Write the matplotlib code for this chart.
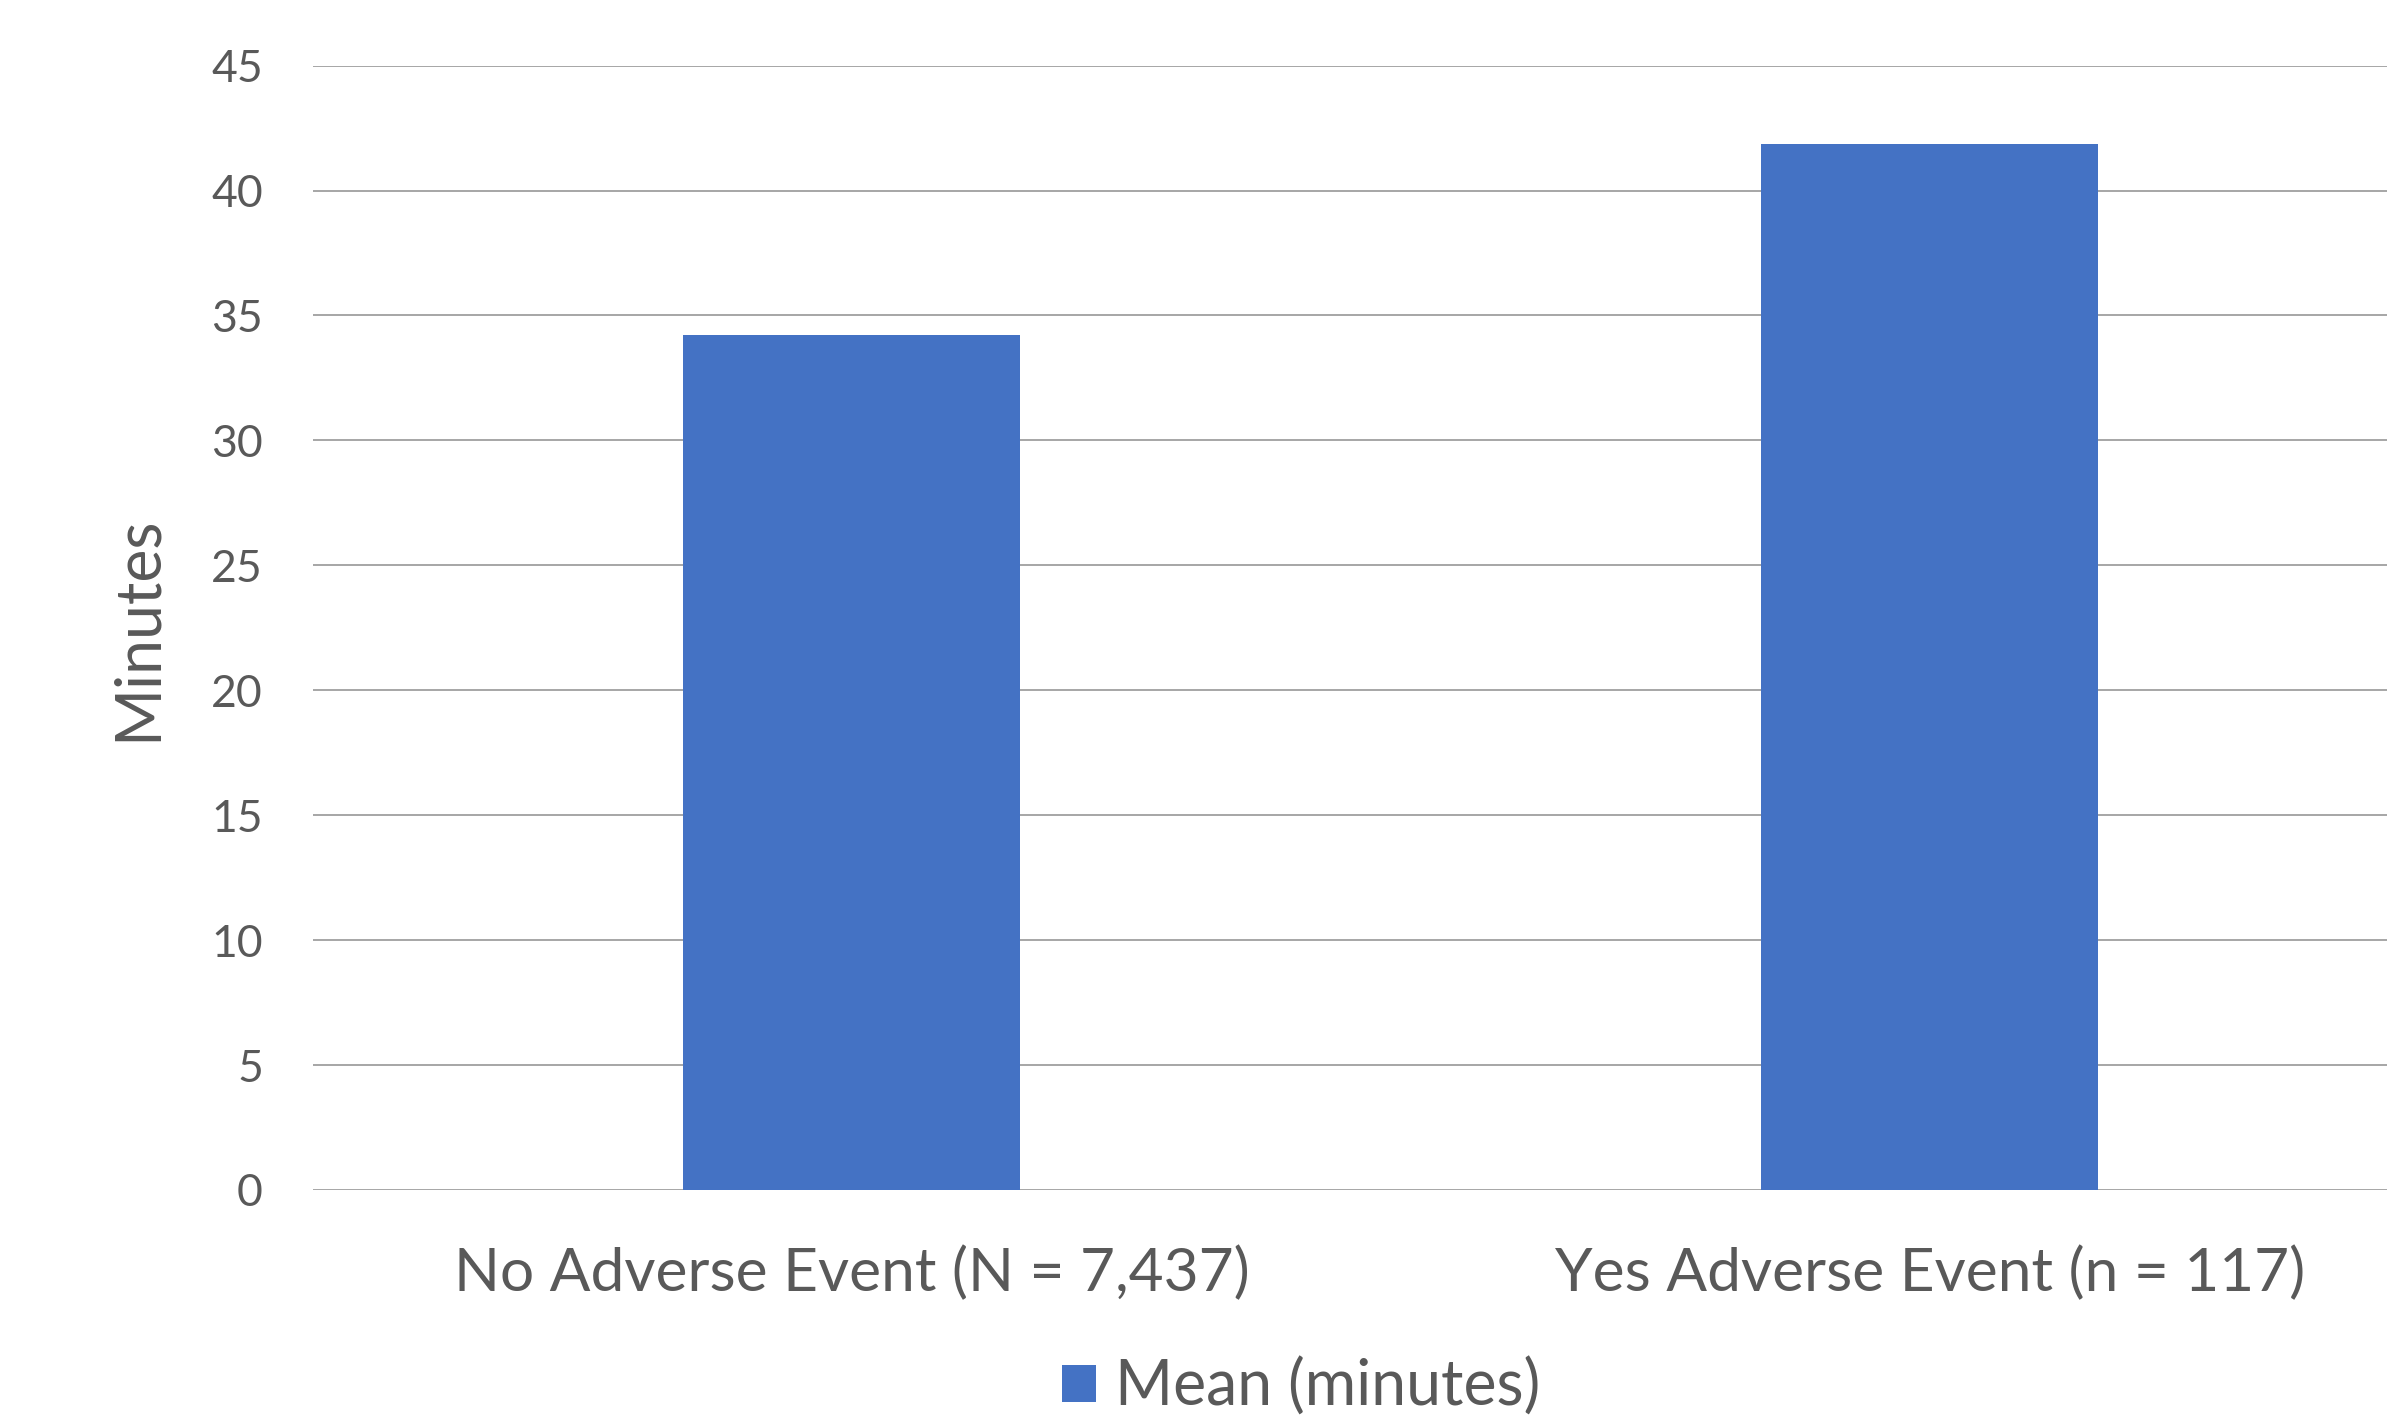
import numpy as np
import matplotlib.pyplot as plt

# ── Données ──────────────────────────────────────────────────────────────────
categories = ["No Adverse Event (N = 7,437)", "Yes Adverse Event (n = 117)"]
mean_minutes = [34.2, 41.85]
y_ticks = [0, 5, 10, 15, 20, 25, 30, 35, 40, 45]

BAR_COLOR = "#4472C4"
TEXT_COLOR = "#595959"
GRID_COLOR = "#a6a6a6"

plt.rcParams['font.family'] = ['Lato', 'DejaVu Sans']

fig = plt.figure(figsize=(23.87, 14.21), dpi=100)
# plot area runs past the right edge, as in the reference
ax = fig.add_axes([0.1311, 0.1626, 0.9032, 0.7912])

x = np.arange(len(categories))
ax.bar(x, mean_minutes, width=0.3125, color=BAR_COLOR, label="Mean (minutes)",
       zorder=3)

ax.set_xlim(-0.5, 1.5)
ax.set_ylim(0, 45)
ax.set_yticks(y_ticks)
ax.set_xticks(x)
ax.set_xticklabels(categories)

ax.grid(True, axis='y', color=GRID_COLOR, linewidth=1.4, zorder=0)
ax.set_axisbelow(True)
for s in ax.spines.values():
    s.set_visible(False)

ax.tick_params(axis='y', length=0, pad=36, labelsize=32, labelcolor=TEXT_COLOR)
ax.tick_params(axis='x', length=0, pad=40, labelsize=43.5, labelcolor=TEXT_COLOR)

ax.set_ylabel("Minutes", fontsize=45, color=TEXT_COLOR)
ax.yaxis.set_label_coords(-0.068, 0.5)

leg = fig.legend(loc='center', bbox_to_anchor=(0.545, 0.024), frameon=False,
                 fontsize=45, handlelength=0.55, handleheight=0.55,
                 handletextpad=0.3)
for t in leg.get_texts():
    t.set_color(TEXT_COLOR)

fig.savefig("out.png", dpi=100)
